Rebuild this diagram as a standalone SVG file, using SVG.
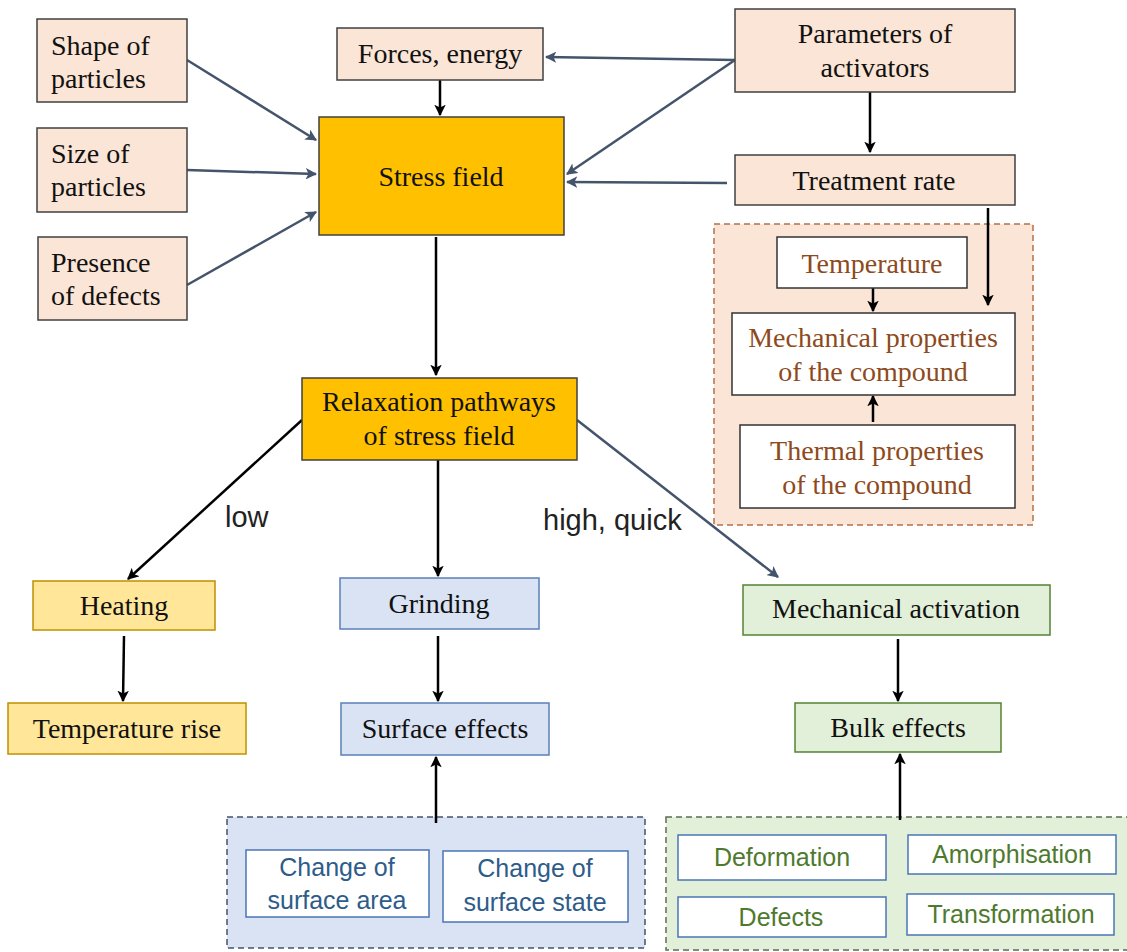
<svg xmlns="http://www.w3.org/2000/svg" width="1127" height="952" viewBox="0 0 1127 952">
<defs>
<style>
.serif{font-family:"Liberation Serif","Times New Roman",serif;font-size:28px;fill:#111}
.c{text-anchor:middle}
.sans{font-family:"Liberation Sans",Arial,sans-serif;font-size:25px}
.peach{fill:#FBE5D6;stroke:#404040;stroke-width:1.5}
.gold{fill:#FFC000;stroke:#404040;stroke-width:1.5}
.yel{fill:#FFE699;stroke:#BF9000;stroke-width:1.5}
.blu{fill:#DAE3F3;stroke:#5B80B8;stroke-width:1.5}
.grn{fill:#E2F0D9;stroke:#548235;stroke-width:1.5}
.wbox{fill:#fff;stroke:#333;stroke-width:1.5}
.wblu{fill:#fff;stroke:#4A76B5;stroke-width:1.5}
.brown{fill:#8E4A1C}
.btxt{fill:#2E5C8A}
.gtxt{fill:#4E7A2E}
.ak{stroke:#000;stroke-width:2.5;fill:none;marker-end:url(#mk)}
.ag{stroke:#44546A;stroke-width:2.5;fill:none;marker-end:url(#mg)}
</style>
<marker id="mk" viewBox="0 0 10 10" refX="9" refY="5" markerWidth="4.6" markerHeight="4.6" orient="auto" markerUnits="strokeWidth"><path d="M0,0 L10,5 L0,10 L2.5,5 z" fill="#000"/></marker>
<marker id="mg" viewBox="0 0 10 10" refX="9" refY="5" markerWidth="4.6" markerHeight="4.6" orient="auto" markerUnits="strokeWidth"><path d="M0,0 L10,5 L0,10 L2.5,5 z" fill="#44546A"/></marker>
</defs>
<rect width="1127" height="952" fill="#fff"/>

<g id="containers">
<rect id="c-thermal" x="714" y="224" width="319" height="301" fill="#FBE5D6" stroke="#B5704A" stroke-width="1.5" stroke-dasharray="6,4"/>
<rect id="c-surface" x="227" y="817" width="418" height="131" fill="#DAE3F3" stroke="#44546A" stroke-width="1.5" stroke-dasharray="6,4"/>
<rect id="c-bulk" x="666" y="817" width="470" height="133" fill="#E2F0D9" stroke="#5F6B55" stroke-width="1.5" stroke-dasharray="6,4"/>
</g>

<g id="connectors">
<line class="ag" x1="187" y1="60" x2="316" y2="140"/>
<line class="ag" x1="187" y1="170" x2="316" y2="174"/>
<line class="ag" x1="187" y1="285" x2="316" y2="212"/>
<line class="ak" x1="440" y1="80" x2="440" y2="115"/>
<line class="ag" x1="735" y1="60" x2="546" y2="57"/>
<line class="ag" x1="735" y1="60" x2="567" y2="174"/>
<line class="ak" x1="870" y1="92" x2="870" y2="152"/>
<line class="ag" x1="727" y1="183" x2="567" y2="182"/>
<line class="ak" x1="988" y1="208" x2="988" y2="305"/>
<line class="ak" x1="873" y1="288" x2="873" y2="311"/>
<line class="ak" x1="873" y1="422" x2="873" y2="396"/>
<line class="ak" x1="436" y1="237" x2="436" y2="375"/>
<line class="ak" x1="302" y1="420" x2="128" y2="579"/>
<line class="ak" x1="438" y1="460" x2="438" y2="576"/>
<line class="ag" x1="577" y1="420" x2="778" y2="577"/>
<line class="ak" x1="124" y1="636" x2="123" y2="701"/>
<line class="ak" x1="438" y1="636" x2="438" y2="701"/>
<line class="ak" x1="436" y1="823" x2="436" y2="757"/>
<line class="ak" x1="898" y1="639" x2="898" y2="701"/>
<line class="ak" x1="900" y1="820" x2="900" y2="754"/>
<text class="sans" x="225" y="527" style="font-size:29px" fill="#222">low</text>
<text class="sans" x="543" y="530" style="font-size:29px" fill="#222">high, quick</text>
</g>

<g id="n-shape"><rect class="peach" x="37" y="19" width="150" height="83"/><text class="serif" x="51" y="55">Shape of</text><text class="serif" x="51" y="88">particles</text></g>
<g id="n-size"><rect class="peach" x="37" y="128" width="150" height="84"/><text class="serif" x="51" y="163">Size of</text><text class="serif" x="51" y="196">particles</text></g>
<g id="n-presence"><rect class="peach" x="38" y="237" width="149" height="83"/><text class="serif" x="51" y="272">Presence</text><text class="serif" x="51" y="305">of defects</text></g>
<g id="n-forces"><rect class="peach" x="337" y="28" width="206" height="52"/><text class="serif c" x="440" y="63">Forces, energy</text></g>
<g id="n-stress"><rect class="gold" x="319" y="117" width="245" height="118"/><text class="serif c" x="441" y="186">Stress field</text></g>
<g id="n-params"><rect class="peach" x="735" y="9" width="280" height="83"/><text class="serif c" x="875" y="43">Parameters of</text><text class="serif c" x="875" y="77">activators</text></g>
<g id="n-rate"><rect class="peach" x="735" y="155" width="280" height="50"/><text class="serif c" x="874" y="190">Treatment rate</text></g>
<g id="n-temp"><rect class="wbox" x="777" y="237" width="190" height="51"/><text class="serif c brown" x="872" y="273">Temperature</text></g>
<g id="n-mech"><rect class="wbox" x="732" y="313" width="283" height="82"/><text class="serif c brown" x="873" y="347">Mechanical properties</text><text class="serif c brown" x="873" y="381">of the compound</text></g>
<g id="n-therm"><rect class="wbox" x="740" y="425" width="275" height="83"/><text class="serif c brown" x="877" y="460">Thermal properties</text><text class="serif c brown" x="877" y="494">of the compound</text></g>
<g id="n-relax"><rect class="gold" x="302" y="378" width="275" height="82"/><text class="serif c" x="439" y="411">Relaxation pathways</text><text class="serif c" x="439" y="445">of stress field</text></g>
<g id="n-heating"><rect class="yel" x="33" y="581" width="182" height="49"/><text class="serif c" x="124" y="615">Heating</text></g>
<g id="n-temprise"><rect class="yel" x="8" y="703" width="238" height="51"/><text class="serif c" x="127" y="738">Temperature rise</text></g>
<g id="n-grinding"><rect class="blu" x="340" y="578" width="199" height="51"/><text class="serif c" x="439" y="613">Grinding</text></g>
<g id="n-surface"><rect class="blu" x="341" y="703" width="208" height="52"/><text class="serif c" x="445" y="738">Surface effects</text></g>
<g id="n-mechact"><rect class="grn" x="743" y="585" width="307" height="50"/><text class="serif c" x="896" y="618">Mechanical activation</text></g>
<g id="n-bulk"><rect class="grn" x="795" y="703" width="206" height="49"/><text class="serif c" x="898" y="737">Bulk effects</text></g>
<g id="n-area"><rect class="wblu" x="246" y="850" width="183" height="67"/><text class="sans c btxt" x="337" y="876">Change of</text><text class="sans c btxt" x="337" y="909">surface area</text></g>
<g id="n-state"><rect class="wblu" x="443" y="851" width="185" height="71"/><text class="sans c btxt" x="535" y="877">Change of</text><text class="sans c btxt" x="535" y="911">surface state</text></g>
<g id="n-deform"><rect class="wblu" x="678" y="835" width="208" height="45"/><text class="sans c gtxt" x="782" y="866">Deformation</text></g>
<g id="n-amorph"><rect class="wblu" x="908" y="835" width="208" height="39"/><text class="sans c gtxt" x="1012" y="863">Amorphisation</text></g>
<g id="n-defects"><rect class="wblu" x="678" y="897" width="208" height="40"/><text class="sans c gtxt" x="781" y="926">Defects</text></g>
<g id="n-transf"><rect class="wblu" x="907" y="894" width="207" height="41"/><text class="sans c gtxt" x="1011" y="923">Transformation</text></g>
</svg>
